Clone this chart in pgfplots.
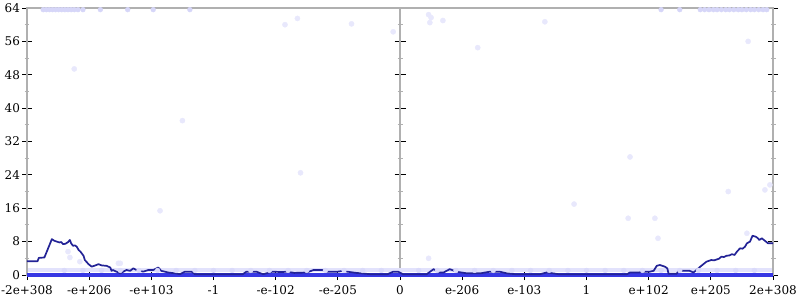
\documentclass[border=0pt]{standalone}
\usepackage{pgfplots}
\pgfplotsset{compat=1.18}
\usepackage{fontspec}
\setmainfont{DejaVu Serif}
\definecolor{navyline}{RGB}{35,35,150}
\definecolor{bandblue}{RGB}{55,55,228}
\definecolor{lightband}{RGB}{226,226,252}
\definecolor{dotfaint}{RGB}{232,232,252}
\definecolor{dottop}{RGB}{214,214,248}
\definecolor{dotmid}{RGB}{218,218,250}
\definecolor{axgray}{RGB}{176,176,176}
\begin{document}
\begin{tikzpicture}
\path[use as bounding box] (-27pt,-25pt) rectangle (773pt,275pt);
% central y axis
\begin{axis}[
  at={(0pt,0pt)}, anchor=south west,
  scale only axis, width=746pt, height=267pt,
  xmin=-6, xmax=6, ymin=0, ymax=64,
  axis x line=none, axis y line=center,
  every inner y axis line/.append style={-},
  ytick={0,8,...,64}, minor ytick={4,12,...,60},
  yticklabels={},
  tick align=center,
  major tick length=11pt, minor tick length=5pt,
  axis line style={axgray, line width=2pt},
  every major tick/.style={black, line width=0.9pt},
  every minor tick/.style={axgray, line width=0.9pt},
]
\addplot[draw=none] coordinates {(0,0)};
\end{axis}
% main axis
\begin{axis}[
  at={(0pt,0pt)}, anchor=south west,
  scale only axis, width=746pt, height=267pt,
  xmin=0, xmax=12, ymin=0, ymax=64,
  clip=false,
  xtick={0,...,12},
  xticklabels={-2e+308,-e+206,-e+103,-1,-e-102,-e-205,0,e-206,e-103,1,e+102,e+205,2e+308},
  ytick={0,8,...,64}, minor ytick={4,12,...,60},
  xtick pos=left,
  tick align=center,
  major tick length=10pt, minor tick length=5pt,
  axis line style={axgray, line width=2pt},
  every major tick/.style={black, line width=0.9pt},
  every minor tick/.style={axgray, line width=0.9pt},
  ticklabel style={font=\fontsize{12}{14}\selectfont},
  yticklabel style={xshift=1.5pt},
  xticklabel style={yshift=-2pt},
  /pgf/number format/assume math mode=true,
]
% faint band near y=1
\addplot[lightband, line width=4pt] coordinates {(0.02,1.1) (11.98,1.1)};
% faint scattered dots
\addplot[only marks, mark=*, mark size=2.6pt, mark options={draw=dotfaint, fill=dotfaint}] coordinates {
(5.22,60.2) (5.89,58.3) (6.46,62.4) (6.5,61.7) (6.48,60.5) (6.69,61.0) (8.33,60.7) (7.25,54.5)
(0.76,49.4) (9.7,28.3) (2.14,15.4) (11.28,20.0) (11.95,21.6) (11.87,20.4) (9.67,13.6) (10.1,13.6)
(10.15,8.8) (11.58,10.0) (0.69,4.2) (0.85,3.2) (0.66,5.6) (1.5,2.8) (6.46,4.0) (1.47,2.8)
(4.4,24.5) (4.15,60.0) (4.35,61.5) (8.8,17.0) (11.6,56.0) (2.5,37.0)
};
% dots along the top
\addplot[only marks, mark=*, mark size=2.4pt, mark options={draw=dottop, fill=dottop}] coordinates {
(0.26,63.6) (0.31,63.6) (0.36,63.6) (0.41,63.6) (0.46,63.6) (0.51,63.6) (0.56,63.6) (0.61,63.6)
(0.66,63.6) (0.71,63.6) (0.76,63.6) (0.82,63.6) (0.9,63.6) (1.18,63.6) (1.62,63.6) (2.03,63.6) (2.62,63.6)
(10.2,63.6) (10.5,63.6) (10.83,63.6) (10.9,63.6) (10.97,63.6) (11.04,63.6) (11.1,63.6) (11.17,63.6)
(11.24,63.6) (11.3,63.6) (11.37,63.6) (11.44,63.6) (11.5,63.6) (11.57,63.6) (11.64,63.6) (11.7,63.6) (11.77,63.6) (11.84,63.6) (11.9,63.6)
};
% mottled dots on the faint band
\addplot[only marks, mark=*, mark size=2.4pt, mark options={draw=dotmid, fill=dotmid}] coordinates {
(0.6,1.1) (0.9,1.1) (1.2,1.1) (1.5,1.1) (1.8,1.1) (2.1,1.1) (2.4,1.1) (2.7,1.1) (3.0,1.1) (3.3,1.1)
(3.6,1.1) (3.9,1.1) (4.2,1.1) (4.5,1.1) (4.8,1.1) (5.1,1.1) (5.4,1.1) (5.7,1.1) (6.3,1.1) (6.6,1.1)
(6.9,1.1) (7.2,1.1) (7.5,1.1) (7.8,1.1) (8.1,1.1) (8.4,1.1) (8.7,1.1) (9.0,1.1) (9.3,1.1) (9.6,1.1)
(9.9,1.1) (10.2,1.1) (10.5,1.1) (10.8,1.1) (11.1,1.1) (11.4,1.1) (11.7,1.1)
};
% bright band at y=0
\addplot[bandblue, line width=3.4pt] coordinates {(0,0) (12,0)};
% dark line
\addplot[navyline, line width=1.7pt, line join=round] coordinates {
(0,3.3) (0.17,3.3) (0.19,4.1) (0.28,4.2) (0.40,8.6) (0.44,8.2) (0.48,8.0) (0.52,7.8)
(0.55,7.9) (0.58,7.4) (0.62,7.5) (0.66,7.9) (0.69,8.4) (0.71,7.6) (0.74,7.0) (0.77,7.1)
(0.80,6.8) (0.83,6.0) (0.86,5.6) (0.91,4.6) (0.93,3.6) (0.99,2.6) (1.04,2.0) (1.10,2.3)
(1.15,2.6) (1.20,2.3) (1.28,2.2) (1.34,1.8) (1.36,1.0) (1.38,1.2) (1.50,0.4) (1.55,0.8)
(1.60,1.2) (1.66,1.0) (1.71,1.6) (1.76,1.2) (1.82,1.0) (1.87,0.8) (1.95,1.2) (2.03,1.2)
(2.11,1.8) (2.16,1.0) (2.27,0.6) (2.38,0.4) (2.46,0.2) (2.54,0.8) (2.65,0.8) (2.70,0.2)
(3.47,0.2) (3.53,0.8) (3.69,0.8) (3.74,0.5) (3.80,0.2) (3.95,0.8) (4.10,0.7) (4.18,0.8)
(4.30,0.5) (4.50,0.6) (4.61,1.2) (4.75,1.2) (4.82,0.8) (5.00,0.8) (5.09,1.0) (5.15,0.8)
(5.30,0.5) (5.52,0.2) (5.80,0.2) (5.89,0.8) (5.97,0.8) (6.05,0.2) (6.43,0.2) (6.54,1.4)
(6.62,0.6) (6.70,0.6) (6.80,1.4) (6.91,0.8) (6.99,0.6) (7.08,0.4) (7.29,0.4) (7.45,0.8)
(7.60,0.8) (7.72,0.4) (7.85,0.2) (8.25,0.2) (8.36,0.6) (8.46,0.4) (8.55,0.2) (9.65,0.2)
(9.70,0.6) (9.85,0.6) (9.89,0.8) (10.02,0.8) (10.08,1.0) (10.13,2.2) (10.18,2.4) (10.26,2.0)
(10.30,1.6) (10.32,0.3) (10.45,0.3) (10.48,1.0) (10.66,1.0) (10.72,0.6) (10.77,1.2) (10.83,2.0)
(10.93,3.2) (11.01,3.6) (11.05,3.5) (11.09,3.7) (11.13,3.9) (11.17,4.4) (11.21,4.3) (11.25,4.6)
(11.30,4.7) (11.34,5.0) (11.38,4.8) (11.42,5.6) (11.47,6.4) (11.51,6.3) (11.55,6.8) (11.58,7.6)
(11.63,8.0) (11.67,9.4) (11.72,9.2) (11.75,8.9) (11.78,8.4) (11.82,8.8) (11.87,8.2) (11.92,7.6) (12.0,7.6)
};
\end{axis}
\end{tikzpicture}
\end{document}
